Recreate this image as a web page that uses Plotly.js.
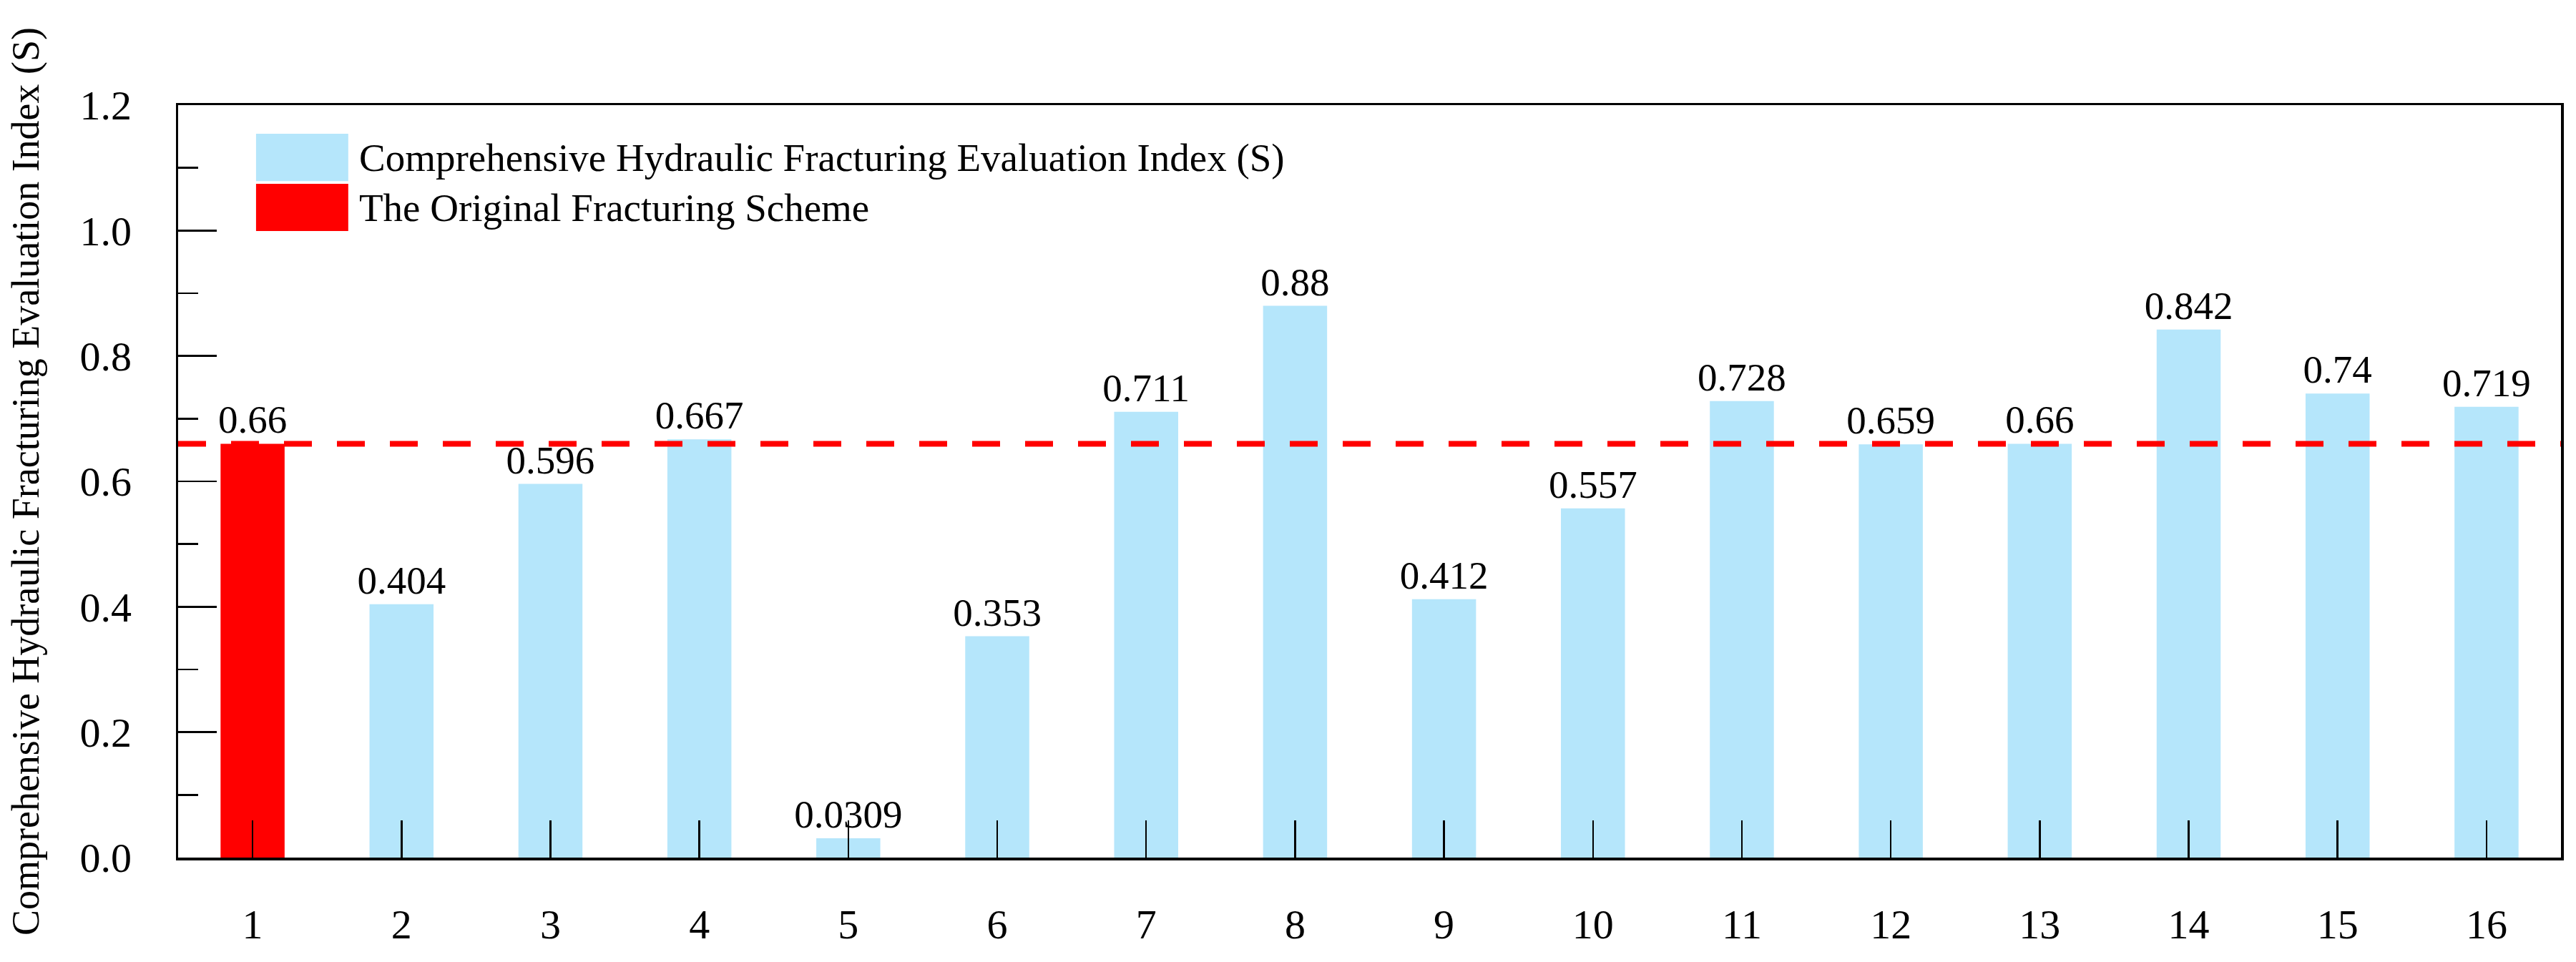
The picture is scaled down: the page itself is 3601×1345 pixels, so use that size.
<!DOCTYPE html>
<html>
<head>
<meta charset="utf-8">
<script src="https://cdn.plot.ly/plotly-3.0.1.min.js"></script>
<style>
  html, body { margin: 0; padding: 0; background: #fff; }
  #chart { width: 3601px; height: 1345px; }
</style>
</head>
<body>
<div id="chart"></div>
<script>
// fracturing schemes and their comprehensive evaluation index S
var schemes = [1, 2, 3, 4, 5, 6, 7, 8, 9, 10, 11, 12, 13, 14, 15, 16];
var indexS = [0.66, 0.404, 0.596, 0.667, 0.0309, 0.353, 0.711, 0.88,
              0.412, 0.557, 0.728, 0.659, 0.66, 0.842, 0.74, 0.719];
var originalScheme = 1;
var legendNames = ['Comprehensive Hydraulic Fracturing Evaluation Index (S)',
                   'The Original Fracturing Scheme'];

var blue = '#b5e6fb';
var red = '#ff0000';
var font = 'Liberation Serif';

var xOther = [], yOther = [], xOrig = [], yOrig = [];
for (var i = 0; i < schemes.length; i++) {
    if (schemes[i] === originalScheme) {
        xOrig.push(schemes[i]); yOrig.push(indexS[i]);
    } else {
        xOther.push(schemes[i]); yOther.push(indexS[i]);
    }
}
var origValue = yOrig[0];

var barText = {family: font, size: 55, color: '#000'};

var traceOther = {
    type: 'bar',
    name: legendNames[0],
    x: xOther,
    y: yOther,
    width: 0.43,
    marker: {color: blue, line: {width: 0}},
    text: yOther.map(String),
    textposition: 'outside',
    textfont: barText,
    cliponaxis: false,
    hoverinfo: 'skip'
};
var traceOrig = {
    type: 'bar',
    name: legendNames[1],
    x: xOrig,
    y: yOrig,
    width: 0.43,
    marker: {color: red, line: {width: 0}},
    text: yOrig.map(String),
    textposition: 'outside',
    textfont: barText,
    cliponaxis: false,
    hoverinfo: 'skip'
};

var layout = {
    width: 3601,
    height: 1345,
    margin: {l: 249, r: 21, t: 147, b: 146, pad: 0},
    paper_bgcolor: '#fff',
    plot_bgcolor: '#fff',
    showlegend: false,
    barmode: 'overlay',
    uniformtext: {mode: false},
    font: {family: font, color: '#000'},
    xaxis: {
        range: [0.5, 16.5],
        tickvals: schemes,
        ticktext: schemes.map(String),
        ticks: 'inside',
        ticklen: 52,
        tickwidth: 2.5,
        tickcolor: '#000',
        ticklabelstandoff: 40,
        tickfont: {family: font, size: 58, color: '#000'},
        showline: true,
        linecolor: '#000',
        linewidth: 3.5,
        mirror: true,
        showgrid: false,
        zeroline: false,
        fixedrange: true
    },
    yaxis: {
        range: [0, 1.2],
        dtick: 0.2,
        tick0: 0,
        tickformat: '.1f',
        ticks: 'inside',
        ticklen: 54,
        tickwidth: 2.5,
        tickcolor: '#000',
        ticklabelstandoff: 50,
        tickfont: {family: font, size: 58, color: '#000'},
        minor: {dtick: 0.1, tick0: 0.1, ticks: 'inside', ticklen: 28, tickwidth: 2.5, tickcolor: '#000'},
        showline: true,
        linecolor: '#000',
        linewidth: 3.5,
        mirror: true,
        showgrid: false,
        zeroline: false,
        fixedrange: true,
        title: {
            text: legendNames[0],
            font: {family: font, size: 54, color: '#000'},
            standoff: 40
        }
    },
    shapes: [
        {   // reference level of the original scheme
            type: 'line', layer: 'above',
            xref: 'paper', x0: 0, x1: 1,
            yref: 'y', y0: origValue, y1: origValue,
            line: {color: red, width: 8, dash: '39px,35px'}
        },
        {   // legend swatches
            type: 'rect', xref: 'paper', yref: 'paper',
            x0: 0.0327, x1: 0.0714, y0: 0.899, y1: 0.962,
            fillcolor: blue, line: {width: 0}
        },
        {
            type: 'rect', xref: 'paper', yref: 'paper',
            x0: 0.0327, x1: 0.0714, y0: 0.8327, y1: 0.8954,
            fillcolor: red, line: {width: 0}
        }
    ],
    annotations: [
        {
            xref: 'paper', yref: 'paper', x: 0.0754, y: 0.9306,
            xanchor: 'left', yanchor: 'middle', showarrow: false,
            text: legendNames[0],
            font: {family: font, size: 55, color: '#000'}
        },
        {
            xref: 'paper', yref: 'paper', x: 0.0754, y: 0.864,
            xanchor: 'left', yanchor: 'middle', showarrow: false,
            text: legendNames[1],
            font: {family: font, size: 55, color: '#000'}
        }
    ]
};
// keep the value labels at full size above narrow bars
traceOther.constraintext = 'none';
traceOrig.constraintext = 'none';

Plotly.newPlot('chart', [traceOther, traceOrig], layout, {displayModeBar: false, staticPlot: true});
</script>
</body>
</html>
